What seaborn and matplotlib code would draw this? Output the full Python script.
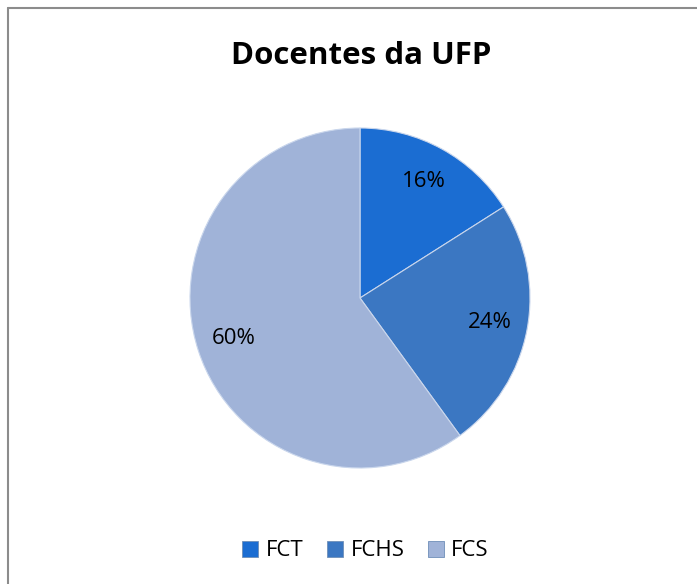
import numpy as np
import pandas as pd
import seaborn as sns
import matplotlib.pyplot as plt
from matplotlib.lines import Line2D

labels = ['FCT', 'FCHS', 'FCS']
shares = [16, 24, 60]
colors = ['#1b6dd2', '#3b77c2', '#a0b3d8']

df = pd.DataFrame({'faculdade': labels, 'pct': shares})

sns.set_theme(style='white')
plt.rcParams['font.family'] = ['Open Sans', 'DejaVu Sans']
plt.rcParams['text.color'] = 'black'

fig = plt.figure(figsize=(6.97, 5.84), dpi=100)
W, H = 697, 584
cx, cy, r = 360, 298, 170
ax = fig.add_axes([(cx - r) / W, 1 - (cy + r) / H, 2 * r / W, 2 * r / H])

wedges, texts, autotexts = ax.pie(
    df['pct'], colors=sns.color_palette(colors), startangle=90, counterclock=False,
    autopct='%1.0f%%', pctdistance=0.78, radius=1,
    wedgeprops={'edgecolor': '#c9d6ec', 'linewidth': 0.8},
    textprops={'fontsize': 16, 'color': 'black'})
ax.set_xlim(-1, 1)
ax.set_ylim(-1, 1)
ax.set_aspect('auto')
ax.axis('off')

fig.text(361 / W, 1 - 56 / H, 'Docentes da UFP', ha='center', va='center',
         fontsize=22.5, fontweight='bold', color='black')

handles = [Line2D([], [], marker='s', linestyle='none', markersize=11,
                  markerfacecolor=c, markeredgecolor='#6f8fb8', markeredgewidth=0.6)
           for c in colors]
fig.legend(handles, labels, loc='center', bbox_to_anchor=(364 / W, 1 - 551 / H),
           ncol=3, frameon=False, fontsize=16, handletextpad=0.2, columnspacing=0.9,
           handlelength=1.0, labelcolor='black')

fig.add_artist(Line2D([8 / W, 8 / W], [0, 1 - 8 / H], color='#8c8c8c', lw=1.5,
                      transform=fig.transFigure))
fig.add_artist(Line2D([8 / W, 1], [1 - 8 / H, 1 - 8 / H], color='#8c8c8c', lw=1.5,
                      transform=fig.transFigure))

fig.savefig('out.png', dpi=100)
